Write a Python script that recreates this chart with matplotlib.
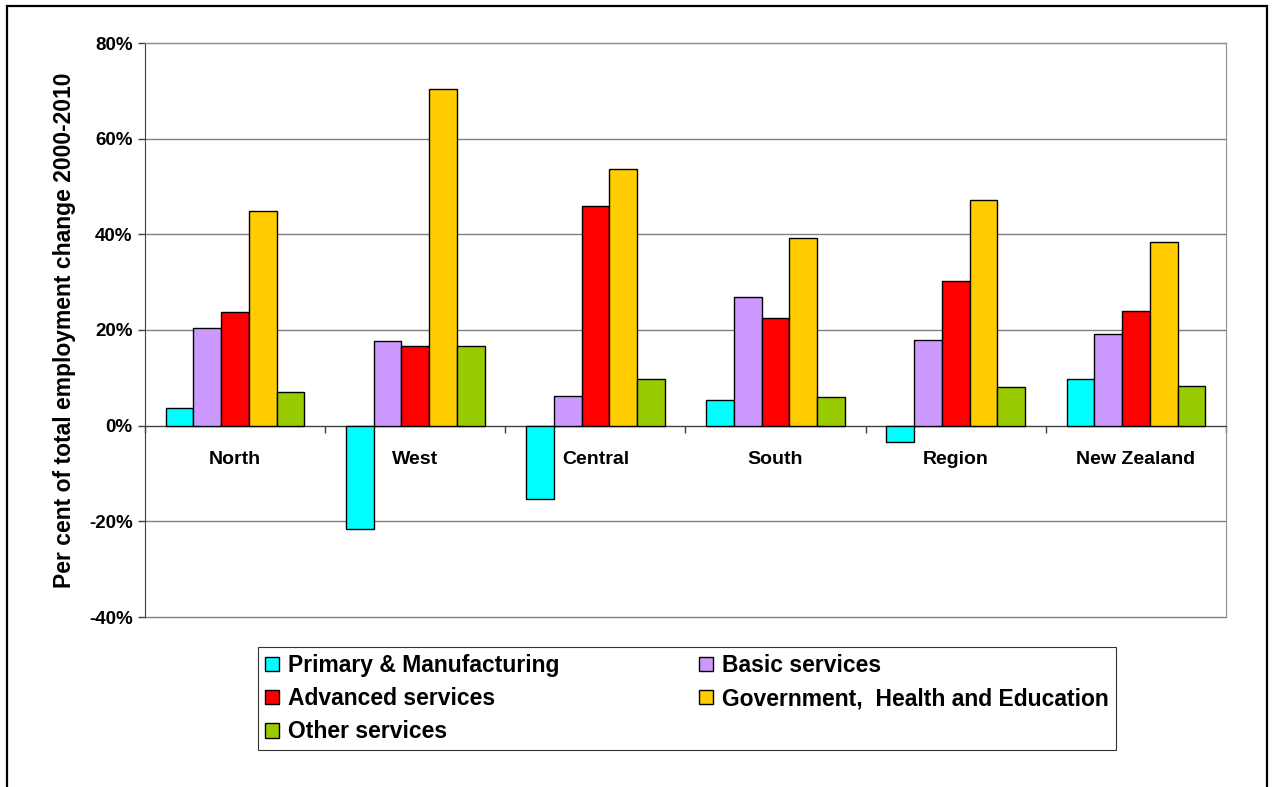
import matplotlib
matplotlib.use("Agg")
import numpy as np
from matplotlib import pyplot as plt
from matplotlib.patches import Rectangle
from matplotlib.ticker import FuncFormatter

plt.rcParams['font.family'] = ['Liberation Sans', 'DejaVu Sans']
plt.rcParams['font.weight'] = 'bold'

regions = ["North", "West", "Central", "South", "Region", "New Zealand"]
series_names = ["Primary & Manufacturing", "Basic services", "Advanced services",
                "Government,  Health and Education", "Other services"]
primary = [3.6, -21.7, -15.4, 5.4, -3.5, 9.8]
basic = [20.4, 17.8, 6.1, 26.9, 17.9, 19.2]
advanced = [23.8, 16.7, 45.9, 22.5, 30.2, 24.0]
government = [44.9, 70.4, 53.6, 39.2, 47.2, 38.3]
other = [7.0, 16.7, 9.7, 5.9, 8.0, 8.3]
colors = ["#00FFFF", "#CC99FF", "#FF0000", "#FFCC00", "#99CC00"]
y_ticks = [-40, -20, 0, 20, 40, 60, 80]

fig = plt.figure(figsize=(12.73, 7.87), dpi=100)
ax = fig.add_axes([145 / 1273, 1 - 617 / 787, 1081 / 1273, 574 / 787])

x = np.arange(len(regions))
w = 0.154
handles = []
for i, (vals, name) in enumerate(zip([primary, basic, advanced, government, other], series_names)):
    b = ax.bar(x + (i - 2) * w, vals, w, color=colors[i], edgecolor='black',
               linewidth=1.0, label=name, zorder=3)
    handles.append(b)

ax.set_xlim(-0.5, len(regions) - 0.5)
ax.set_ylim(-40, 80)
ax.set_yticks(y_ticks)
ax.yaxis.set_major_formatter(FuncFormatter(lambda v, p: f"{v:.0f}%"))
ax.yaxis.grid(True, color='#808080', linewidth=1.0, zorder=0)
for gl in ax.yaxis.get_gridlines():
    gl.set_clip_on(False)
ax.tick_params(axis='y', direction='out', length=5, width=1, color='#404040',
               labelsize=13.5, pad=4)

# category axis drawn at zero
ax.spines['bottom'].set_position(('data', 0))
ax.spines['bottom'].set_color('#404040')
ax.spines['left'].set_color('#404040')
ax.spines['top'].set_color('#909090')
ax.spines['right'].set_color('#909090')
ax.set_xticks(np.arange(-0.5, len(regions), 1.0))
ax.set_xticklabels([])
ax.tick_params(axis='x', which='major', direction='out', length=5, width=1, color='#404040')
ax.set_xticks(x, minor=True)
ax.set_xticklabels(regions, minor=True)
ax.tick_params(axis='x', which='minor', length=0, pad=18, labelsize=14)

ax.set_ylabel("Per cent of total employment change 2000-2010", fontsize=16.5, fontweight='bold')
ax.yaxis.set_label_coords(-0.064, 0.5)

order = [0, 2, 4, 1, 3]
leg = fig.legend([handles[k] for k in order], [series_names[k] for k in order],
                 loc='upper left', ncol=2, mode='expand',
                 bbox_to_anchor=(258 / 1273, 1 - 747 / 787, (1116 - 258) / 1273, 100 / 787),
                 frameon=True, fancybox=False, edgecolor='black', fontsize=16.5,
                 handlelength=0.6, handleheight=0.6, handletextpad=0.4,
                 labelspacing=0.45, borderpad=0.3, borderaxespad=0)
leg.get_frame().set_linewidth(0.8)

fig.patches.append(Rectangle((7 / 1273, -0.02), (1267 - 7) / 1273, 1.02 - 6 / 787,
                             transform=fig.transFigure, fill=False,
                             edgecolor='black', linewidth=1.6))

fig.savefig("out.png", dpi=100)
